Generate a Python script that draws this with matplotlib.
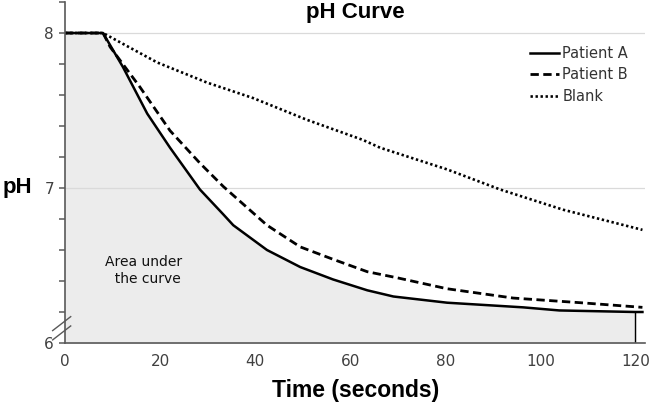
import matplotlib
matplotlib.use("Agg")
import matplotlib.pyplot as plt
import numpy as np

# values
t_a = [0, 8, 12.2, 17.3, 22.1, 28.4, 33.3, 35.4, 42.5, 49.5, 56.4, 63.6, 69.1,
       80.4, 96.4, 104, 120, 121.5]
ph_a = [8.0, 8.0, 7.78, 7.48, 7.26, 6.99, 6.83, 6.76, 6.60, 6.49, 6.41, 6.34, 6.30,
        6.26, 6.23, 6.21, 6.20, 6.20]

t_b = [0, 8, 9.5, 15.8, 22.1, 28.4, 33.3, 42.5, 49.5, 56.4, 63.6, 70,
       80.4, 94.3, 108.4, 121.5]
ph_b = [8.0, 8.0, 7.91, 7.65, 7.37, 7.16, 7.01, 6.76, 6.62, 6.54, 6.46, 6.42,
        6.35, 6.29, 6.26, 6.23]

t_blank = [0, 8, 19.4, 29.9, 39.6, 50.9, 62.7, 66.3, 80.4, 91.6, 104.8, 121.5]
ph_blank = [8.0, 8.0, 7.81, 7.68, 7.58, 7.44, 7.31, 7.26, 7.12, 6.99, 6.86, 6.73]

xticks = [0, 20, 40, 60, 80, 100, 120]
yticks = [6, 7, 8]

fig = plt.figure(figsize=(6.52, 4.04), dpi=100)
ax = fig.add_axes([0.0997, 0.151, 0.89, 0.844])

axis_col = '#595959'
ax.set_xlim(0, 122.1)
ax.set_ylim(6, 8.2)

# shaded area under patient A up to t=120
ta = np.array(t_a); pa = np.array(ph_a)
m = ta <= 120
ax.fill_between(ta[m], 6, pa[m], color='#ececec', zorder=0)
ax.plot([120, 120], [6, 6.20], color='black', lw=1.0)

for y in [7, 8]:
    ax.axhline(y, color='#dadada', lw=0.9, zorder=0.5)

ax.plot(t_a, ph_a, color='black', lw=1.8, label='Patient A')
ax.plot(t_b, ph_b, color='black', lw=2.0, ls=(0, (3, 1.6)), label='Patient B')
ax.plot(t_blank, ph_blank, color='black', lw=1.9, ls=(0, (0.9, 1.0)), label='Blank')

for s in ['top', 'right']:
    ax.spines[s].set_visible(False)
for s in ['left', 'bottom']:
    ax.spines[s].set_color(axis_col)
    ax.spines[s].set_linewidth(1.2)

ax.set_xticks(xticks)
ax.set_yticks(yticks)
ax.set_yticks(np.arange(6, 8.21, 0.2), minor=True)
ax.tick_params(axis='x', length=0, pad=8, labelsize=11, labelcolor='#404040')
ax.tick_params(axis='y', which='both', direction='out', length=4, width=1.1,
               color=axis_col, labelsize=11, labelcolor='#404040', pad=4)

# axis break marks near y=6
for dy in [0.0, 0.06]:
    ax.plot([-2.6, 1.2], [6.02 + dy, 6.11 + dy], color=axis_col, lw=1.0,
            clip_on=False)

ax.text(16.5, 6.47, 'Area under\n  the curve', fontsize=10, ha='center', va='center',
        color='#111111', linespacing=1.25)

fig.text(0.545, 0.968, 'pH Curve', fontsize=16, fontweight='bold',
         ha='center', va='center', family='Liberation Sans')
fig.text(0.027, 0.535, 'pH', fontsize=16, fontweight='bold',
         ha='center', va='center', family='Liberation Sans')
ax.set_xlabel('Time (seconds)', fontsize=16.5, fontweight='bold',
              family='Liberation Sans', labelpad=7)

leg = ax.legend(loc='upper right', bbox_to_anchor=(0.993, 0.91), frameon=False,
                fontsize=10.5, handlelength=2.0, handletextpad=0.2,
                labelspacing=0.45)
for txt in leg.get_texts():
    txt.set_color('#333333')

fig.savefig('out.png', dpi=100)
